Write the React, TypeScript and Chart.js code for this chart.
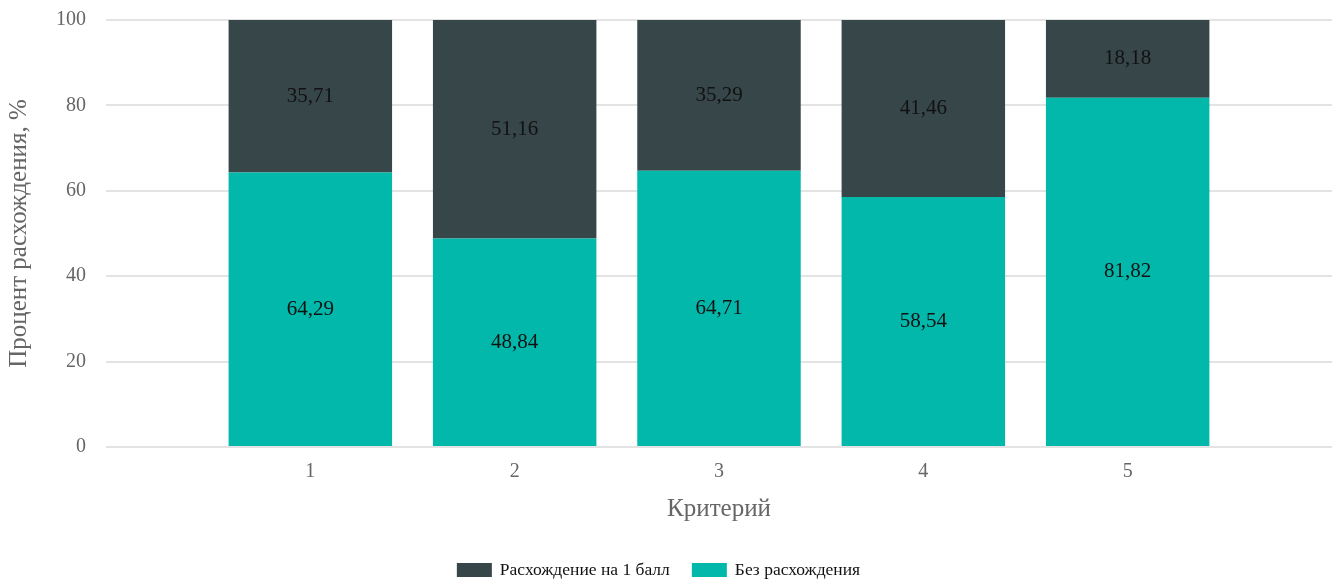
import React, { useEffect, useRef } from "react";
import { Chart, registerables } from "chart.js";

Chart.register(...registerables);

const categories = ["", "1", "2", "3", "4", "5", ""];
const noDiff = [null, 64.29, 48.84, 64.71, 58.54, 81.82, null];
const diffOne = [null, 35.71, 51.16, 35.29, 41.46, 18.18, null];
const yTicks = [0, 20, 40, 60, 80, 100];

const FONT = "'Liberation Serif', 'Times New Roman', serif";

const labelPlugin = {
  id: "segLabels",
  afterDatasetsDraw(chart: any) {
    const ctx = chart.ctx;
    ctx.save();
    ctx.font = `21px ${FONT}`;
    ctx.fillStyle = "#111";
    ctx.textAlign = "center";
    ctx.textBaseline = "middle";
    chart.data.datasets.forEach((ds: any, di: number) => {
      const meta = chart.getDatasetMeta(di);
      meta.data.forEach((el: any, i: number) => {
        const v = ds.data[i];
        if (v == null) return;
        const { x, y, base } = el.getProps(["x", "y", "base"], true);
        ctx.fillText(v.toFixed(2).replace(".", ","), x, (y + base) / 2);
      });
    });
    ctx.restore();
  },
};

// bottom legend drawn manually (dark series first, like the reference)
const legendPlugin = {
  id: "bottomLegend",
  afterDraw(chart: any) {
    const ctx = chart.ctx;
    const items = [...chart.data.datasets].reverse();
    const boxW = 35, boxH = 14, gap = 8, itemGap = 22;
    ctx.save();
    ctx.font = `17.5px ${FONT}`;
    ctx.textBaseline = "middle";
    ctx.textAlign = "left";
    const widths = items.map((d: any) => boxW + gap + ctx.measureText(d.label).width);
    const total = widths.reduce((a: number, b: number) => a + b, 0) + itemGap * (items.length - 1);
    let x = chart.width / 2 - 10 - total / 2;
    const y = chart.height - 12;
    items.forEach((d: any, i: number) => {
      ctx.fillStyle = d.backgroundColor;
      ctx.fillRect(x, y - boxH / 2, boxW, boxH);
      ctx.fillStyle = "#111";
      ctx.fillText(d.label, x + boxW + gap, y);
      x += widths[i] + itemGap;
    });
    ctx.restore();
  },
};

export default function App() {
  const ref = useRef<HTMLCanvasElement>(null);
  useEffect(() => {
    document.body.style.margin = "0";
    const chart = new Chart(ref.current!, {
      type: "bar",
      data: {
        labels: categories,
        datasets: [
          {
            label: "Без расхождения",
            data: noDiff,
            backgroundColor: "#01B8AA",
            barPercentage: 1,
            categoryPercentage: 0.8,
          },
          {
            label: "Расхождение на 1 балл",
            data: diffOne,
            backgroundColor: "#374649",
            barPercentage: 1,
            categoryPercentage: 0.8,
          },
        ],
      },
      options: {
        animation: false,
        responsive: false,
        layout: { padding: { left: 0, right: 0, top: 0, bottom: 58 } },
        plugins: {
          legend: { display: false },
          tooltip: { enabled: false },
        },
        scales: {
          x: {
            stacked: true,
            offset: false,
            grid: { display: false },
            border: { display: false },
            ticks: { color: "#666", font: { family: FONT, size: 20 }, padding: 5, maxRotation: 0, autoSkip: false },
            title: { display: true, text: "Критерий", color: "#666", font: { family: FONT, size: 25 }, padding: { top: 5, bottom: 0 } },
          },
          y: {
            stacked: true,
            min: 0,
            max: 100,
            afterBuildTicks: (s: any) => { s.ticks = yTicks.map((v) => ({ value: v })); },
            afterFit: (s: any) => { s.paddingTop = 20; },
            grid: { color: "#e3e3e3", lineWidth: 2, drawTicks: false },
            border: { display: false },
            ticks: { color: "#666", font: { family: FONT, size: 20 }, padding: 20 },
            title: { display: true, text: "Процент расхождения, %", color: "#666", font: { family: FONT, size: 25 }, padding: { bottom: 2 } },
          },
        },
      },
      plugins: [labelPlugin, legendPlugin],
    });
    return () => chart.destroy();
  }, []);
  return <canvas ref={ref} width={1337} height={582} style={{ display: "block" }} />;
}
